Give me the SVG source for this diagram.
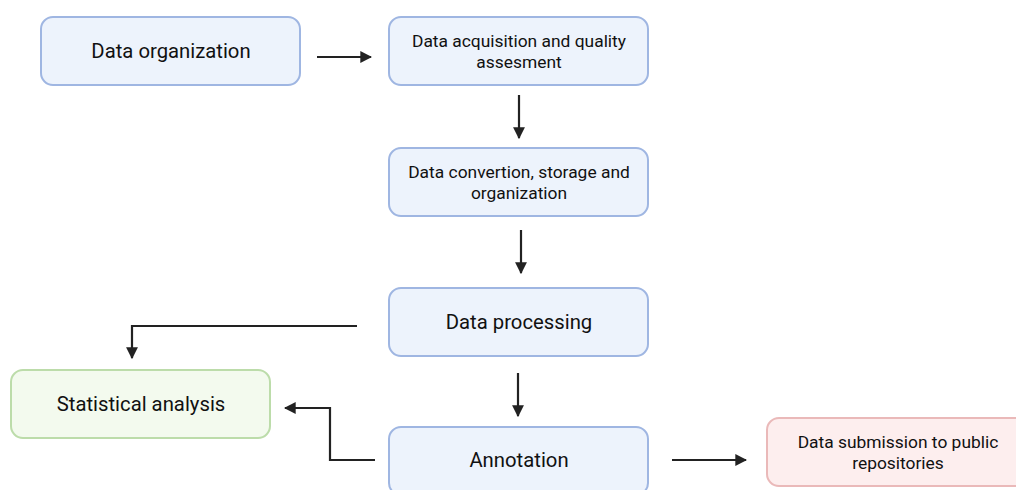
<svg xmlns="http://www.w3.org/2000/svg" width="1016" height="490" viewBox="0 0 1016 490">
  <style>
    .box { fill: #edf3fc; stroke: #9fb6e2; stroke-width: 2; }
    .green { fill: #f3faee; stroke: #bcdcaa; stroke-width: 2; }
    .red { fill: #fdeeee; stroke: #eab9b9; stroke-width: 2; }
    .lbl { font-family: Roboto, "Liberation Sans", sans-serif; fill: #111; text-anchor: middle; }
    .big { font-size: 20.3px; }
    .small { font-size: 17.4px; }
    .conn { fill: none; stroke: #222; stroke-width: 2.2; marker-end: url(#head); }
  </style>
  <defs>
    <marker id="head" viewBox="0 0 10 10" refX="9" refY="5" markerWidth="5.4" markerHeight="5.4" orient="auto" markerUnits="strokeWidth">
      <path d="M0,0 L10,5 L0,10 Z" fill="#222"/>
    </marker>
  </defs>
  <rect width="1016" height="490" fill="#ffffff"/>

  <g id="data-organization">
    <rect class="box" x="41" y="17" width="259" height="68" rx="12"/>
    <text class="lbl big" x="171" y="58">Data organization</text>
  </g>

  <g id="acquisition">
    <rect class="box" x="389" y="17" width="259" height="68" rx="12"/>
    <text class="lbl small" x="519" y="47">Data acquisition and quality</text>
    <text class="lbl small" x="519" y="68">assesment</text>
  </g>

  <g id="conversion">
    <rect class="box" x="389" y="148" width="259" height="68" rx="12"/>
    <text class="lbl small" x="519" y="178">Data convertion, storage and</text>
    <text class="lbl small" x="519" y="199">organization</text>
  </g>

  <g id="processing">
    <rect class="box" x="389" y="288" width="259" height="68" rx="12"/>
    <text class="lbl big" x="519" y="329">Data processing</text>
  </g>

  <g id="annotation">
    <rect class="box" x="389" y="427" width="259" height="68" rx="12"/>
    <text class="lbl big" x="519" y="467">Annotation</text>
  </g>

  <g id="statistical-analysis">
    <rect class="green" x="11" y="370" width="259" height="68" rx="12"/>
    <text class="lbl big" x="141" y="411">Statistical analysis</text>
  </g>

  <g id="submission">
    <rect class="red" x="767" y="418" width="260" height="68" rx="12"/>
    <text class="lbl small" x="898" y="448">Data submission to public</text>
    <text class="lbl small" x="898" y="469">repositories</text>
  </g>

  <g id="connectors">
    <path class="conn" d="M317,57 H371"/>
    <path class="conn" d="M519,95 V138"/>
    <path class="conn" d="M521,230 V273"/>
    <path class="conn" d="M357,326 H132 V358"/>
    <path class="conn" d="M518,373 V416"/>
    <path class="conn" d="M375,460 H330 V408 H285"/>
    <path class="conn" d="M672,460 H746"/>
  </g>
</svg>
